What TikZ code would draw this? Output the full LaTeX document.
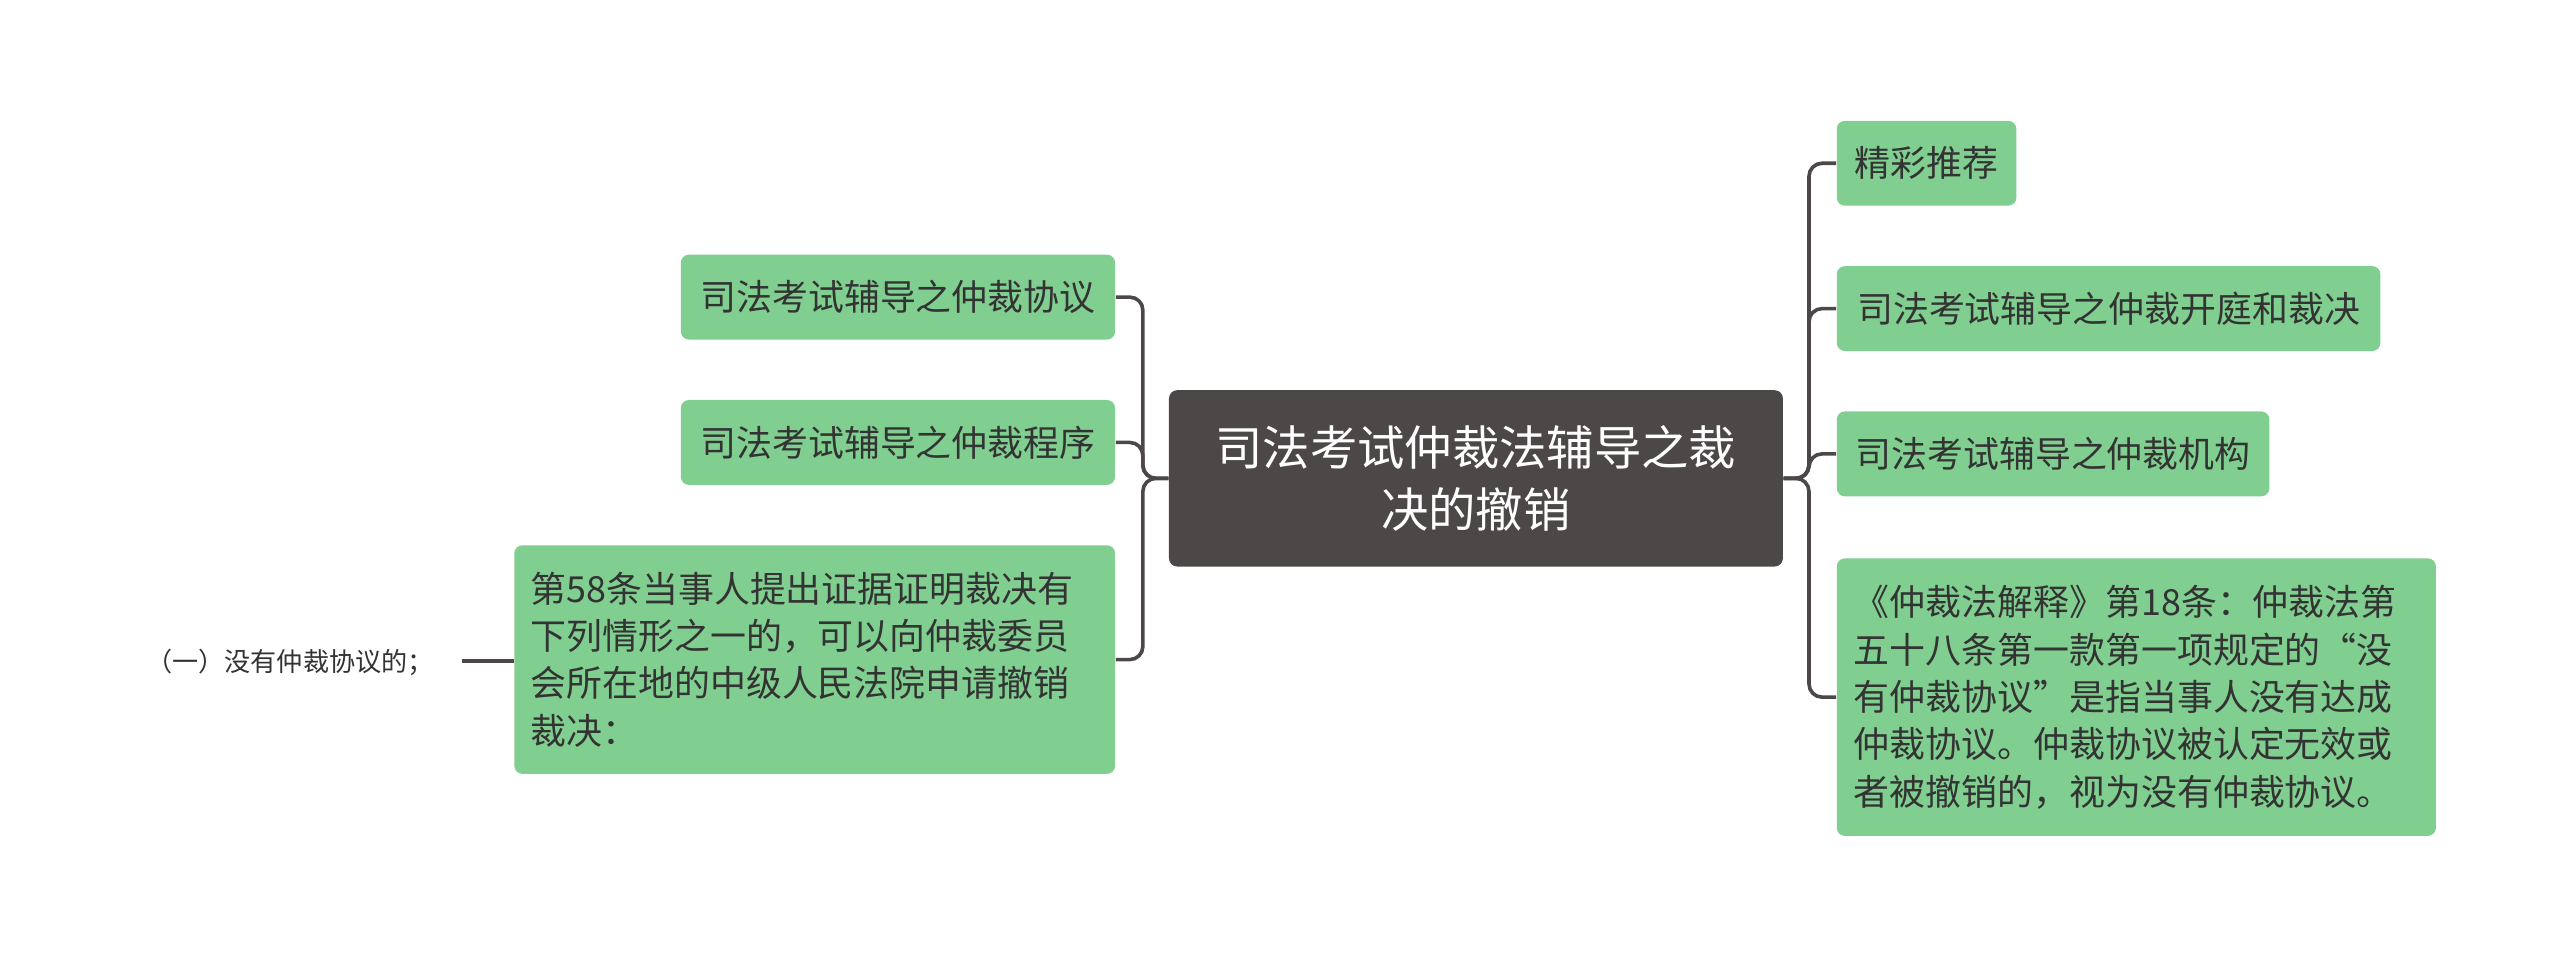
\documentclass[tikz,border=0pt]{standalone}
\usepackage{fontspec}
\setmainfont{Noto Sans CJK SC}
\begin{document}
\begin{tikzpicture}[x=0.5pt,y=-0.5pt,
  leaf/.style={fill=lf,rounded corners=2.5pt,inner sep=0pt,font=\fontsize{11pt}{14.5pt}\selectfont,text=txt},
  link/.style={draw=ln,line width=1.1pt,rounded corners=4pt}]
\definecolor{lf}{HTML}{80CF90}
\definecolor{dk}{HTML}{4D4848}
\definecolor{ln}{HTML}{4D4848}
\definecolor{txt}{HTML}{333333}
\fill[white] (0,0) rectangle (1568,587);
\useasboundingbox (0,0) rectangle (1568,587);
\node[fill=dk,rounded corners=2.5pt,minimum width=188pt,minimum height=54pt,align=center,text=white,font=\fontsize{14.5pt}{19pt}\selectfont] (c) at (904,293) {司法考试仲裁法辅导之裁\\决的撤销};
% left
\node[leaf,minimum width=133pt,minimum height=26pt] (l1) at (550,182) {司法考试辅导之仲裁协议};
\node[leaf,minimum width=133pt,minimum height=26pt] (l2) at (550,271) {司法考试辅导之仲裁程序};
\node[leaf,minimum width=184pt,minimum height=70pt,text width=174pt,align=left] (l3) at (499,404) {第58条当事人提出证据证明裁决有\\下列情形之一的，可以向仲裁委员\\会所在地的中级人民法院申请撤销\\裁决：};
\node[font=\fontsize{8pt}{10pt}\selectfont,text=txt,anchor=east,inner sep=0pt] (t) at (266,406) {（一）没有仲裁协议的；};
\coordinate (te) at (283,405);
% right
\node[leaf,minimum width=55pt,minimum height=26pt] (r1) at (1180,100) {精彩推荐};
\node[leaf,minimum width=166.5pt,minimum height=26pt] (r2) at (1291.5,189) {司法考试辅导之仲裁开庭和裁决};
\node[leaf,minimum width=132.5pt,minimum height=26pt] (r3) at (1257.5,278) {司法考试辅导之仲裁机构};
\node[leaf,minimum width=183.5pt,minimum height=85pt,text width=173pt,align=left] (r4) at (1308.5,427) {《仲裁法解释》第18条：仲裁法第\\五十八条第一款第一项规定的“没\\有仲裁协议”是指当事人没有达成\\仲裁协议。仲裁协议被认定无效或\\者被撤销的，视为没有仲裁协议。};
% links
\foreach \n in {l1,l2,l3} \draw[link] (c.west) -- (700,293) |- (\n.east);
\foreach \n in {r1,r2,r3,r4} \draw[link] (c.east) -- (1108,293) |- (\n.west);
\draw[link] (te) -- (l3.west |- te);
\end{tikzpicture}
\end{document}
